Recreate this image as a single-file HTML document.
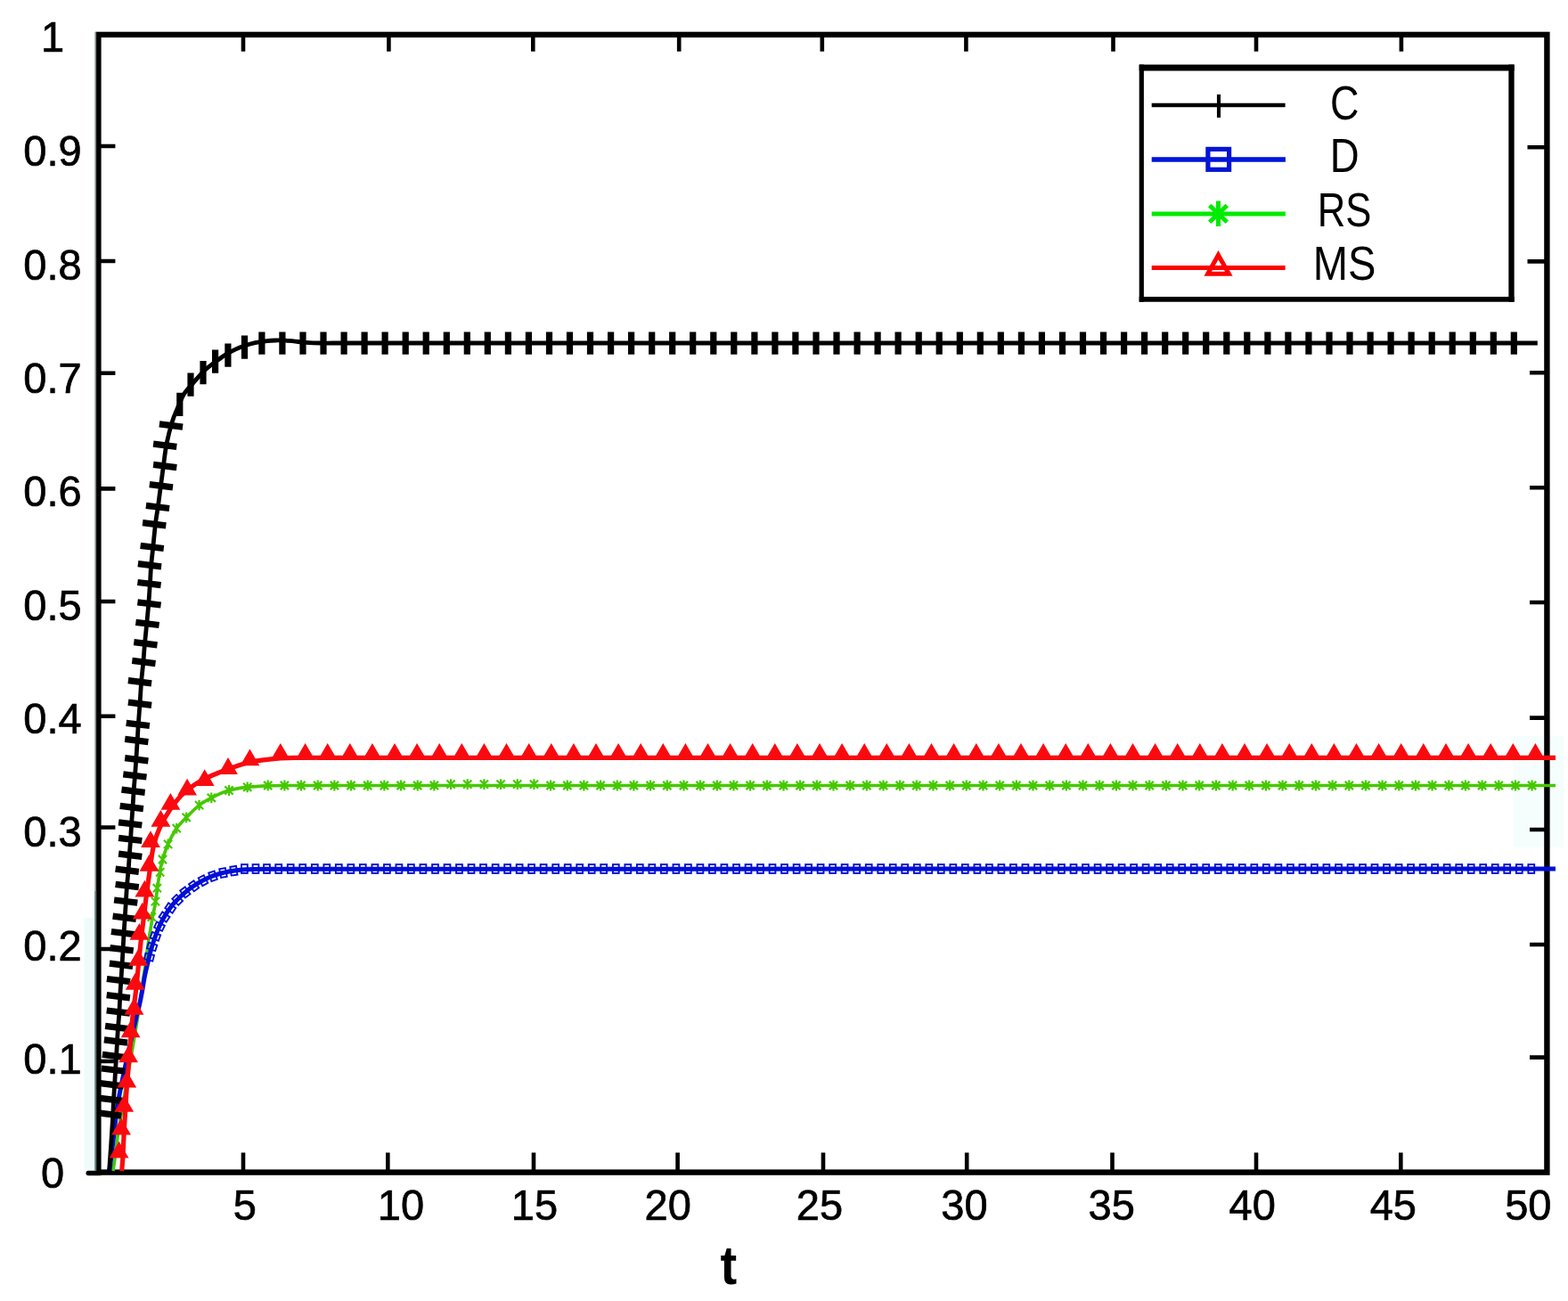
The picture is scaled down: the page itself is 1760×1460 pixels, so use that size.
<!DOCTYPE html>
<html lang="en"><head><meta charset="utf-8"><title>t</title>
<style>html,body{margin:0;padding:0;background:#fff}body{width:1760px;height:1460px;overflow:hidden}svg{display:block}</style>
</head><body>
<svg width="1760" height="1460" viewBox="0 0 1760 1460"><rect x="94.5" y="1030" width="12" height="285" fill="#effbfb"/>
<rect x="1699" y="826" width="56" height="125" fill="#f6fdfd"/>
<rect x="110.4" y="38.9" width="1626.0" height="1276.6999999999998" fill="none" stroke="#000" stroke-width="6.4"/>
<path d="M99.2,1316.5H112" stroke="#000" stroke-width="5.4" stroke-linecap="round"/>
<path d="M107.3,36V1314" stroke="#7d8483" stroke-width="1.7"/><path d="M107.3,1000V1314" stroke="#5f7d7a" stroke-width="1.7"/>
<path d="M273,38.9V57.8M436.4,38.9V57.8M598.3,38.9V57.8M762.2,38.9V57.8M922.8,38.9V57.8M1084.4,38.9V57.8M1249.5,38.9V57.8M1410,38.9V57.8M1572.9,38.9V57.8M273,1315.6V1293.6M435.3,1315.6V1293.6M599,1315.6V1293.6M760.6,1315.6V1293.6M924,1315.6V1293.6M1085.2,1315.6V1293.6M1248.5,1315.6V1293.6M1410,1315.6V1293.6M1572.3,1315.6V1293.6M110.4,164H129.4M110.4,293H129.4M110.4,418.7H129.4M110.4,548.4H129.4M110.4,675H129.4M110.4,803.7H129.4M110.4,928.5H129.4M110.4,1065H129.4M110.4,1191H129.4M1736.4,165.2H1714.5M1736.4,293.4H1714.5M1736.4,418.3H1717M1736.4,547.2H1717M1736.4,676H1717M1736.4,805.6H1717M1736.4,931H1717M1736.4,1060H1717M1736.4,1186.6H1717" stroke="#000" stroke-width="4.6" fill="none"/>
<path d="M126.9,1314.0 C127.2,1311.7 128.2,1306.2 129.0,1300.0 C129.8,1293.8 130.6,1285.4 131.8,1277.0 C133.0,1268.6 133.3,1266.9 136.2,1249.6 C139.1,1232.2 146.2,1191.2 149.3,1172.9 C152.4,1154.6 153.2,1150.5 154.8,1140.0 C156.5,1129.5 157.8,1120.0 159.2,1110.0 C160.6,1100.0 162.4,1088.0 163.5,1080.0 C164.6,1072.0 165.0,1067.9 165.8,1062.2 C166.6,1056.5 167.6,1051.3 168.5,1045.8 C169.4,1040.3 170.2,1034.8 171.2,1029.3 C172.2,1023.8 173.6,1018.4 174.5,1012.9 C175.4,1007.4 175.9,1001.9 176.7,996.4 C177.5,990.9 178.2,985.3 179.2,980.0 C180.2,974.7 180.9,969.9 182.5,964.5 C184.1,959.1 186.0,953.2 188.6,947.4 C191.2,941.6 194.8,934.6 198.2,929.6 C201.6,924.6 205.0,921.6 209.2,917.3 C213.4,913.0 218.9,907.3 223.6,903.6 C228.3,899.9 231.7,898.1 237.3,895.3 C242.9,892.5 250.3,889.0 257.0,887.0 C263.7,885.0 270.4,884.2 277.7,883.3 C285.0,882.4 292.3,882.1 301.0,881.8 C309.7,881.5 320.3,881.5 330.0,881.5 C339.7,881.5 354.2,881.5 359.0,881.5 L1746,881.5" fill="none" stroke="#46c800" stroke-width="3.7" stroke-linejoin="round"/>
<g fill="none" stroke="#46c800" stroke-width="2.2"><path d="M170.3,1023.2v11.8M165.7,1024.5l9.2,9.2M165.7,1033.7l9.2,-9.2M174.4,1005.7v11.8M169.8,1007.0l9.2,9.2M169.8,1016.2l9.2,-9.2M176.3,990.8v11.8M171.7,992.1l9.2,9.2M171.7,1001.3l9.2,-9.2M179.7,973.0v11.8M175.1,974.3l9.2,9.2M175.1,983.5l9.2,-9.2M182.5,958.6v11.8M177.9,959.9l9.2,9.2M177.9,969.1l9.2,-9.2M188.6,941.5v11.8M184.0,942.8l9.2,9.2M184.0,952.0l9.2,-9.2M198.2,923.7v11.8M193.6,925.0l9.2,9.2M193.6,934.2l9.2,-9.2M209.2,911.4v11.8M204.6,912.7l9.2,9.2M204.6,921.9l9.2,-9.2M223.6,897.7v11.8M219.0,899.0l9.2,9.2M219.0,908.2l9.2,-9.2M237.3,889.4v11.8M232.7,890.7l9.2,9.2M232.7,899.9l9.2,-9.2M257.0,881.1v11.8M252.4,882.4l9.2,9.2M252.4,891.6l9.2,-9.2M277.7,877.4v11.8M273.1,878.7l9.2,9.2M273.1,887.9l9.2,-9.2M300.7,875.6v11.8M296.1,876.9l9.2,9.2M296.1,886.1l9.2,-9.2M319.4,875.6v11.8M314.8,876.9l9.2,9.2M314.8,886.1l9.2,-9.2M338.0,875.6v11.8M333.4,876.9l9.2,9.2M333.4,886.1l9.2,-9.2M356.7,875.6v11.8M352.1,876.9l9.2,9.2M352.1,886.1l9.2,-9.2M375.4,875.6v11.8M370.8,876.9l9.2,9.2M370.8,886.1l9.2,-9.2M394.1,875.6v11.8M389.4,876.9l9.2,9.2M389.4,886.1l9.2,-9.2M412.7,875.6v11.8M408.1,876.9l9.2,9.2M408.1,886.1l9.2,-9.2M431.4,875.6v11.8M426.8,876.9l9.2,9.2M426.8,886.1l9.2,-9.2M450.1,875.6v11.8M445.5,876.9l9.2,9.2M445.5,886.1l9.2,-9.2M468.7,875.6v11.8M464.1,876.9l9.2,9.2M464.1,886.1l9.2,-9.2M487.4,875.6v11.8M482.8,876.9l9.2,9.2M482.8,886.1l9.2,-9.2M506.1,874.2v11.8M501.5,875.5l9.2,9.2M501.5,884.7l9.2,-9.2M524.7,874.2v11.8M520.1,875.5l9.2,9.2M520.1,884.7l9.2,-9.2M543.4,874.2v11.8M538.8,875.5l9.2,9.2M538.8,884.7l9.2,-9.2M562.1,874.2v11.8M557.5,875.5l9.2,9.2M557.5,884.7l9.2,-9.2M580.8,874.2v11.8M576.1,875.5l9.2,9.2M576.1,884.7l9.2,-9.2M599.4,874.2v11.8M594.8,875.5l9.2,9.2M594.8,884.7l9.2,-9.2M618.1,875.6v11.8M613.5,876.9l9.2,9.2M613.5,886.1l9.2,-9.2M636.8,875.6v11.8M632.2,876.9l9.2,9.2M632.2,886.1l9.2,-9.2M655.4,875.6v11.8M650.8,876.9l9.2,9.2M650.8,886.1l9.2,-9.2M674.1,875.6v11.8M669.5,876.9l9.2,9.2M669.5,886.1l9.2,-9.2M692.8,875.6v11.8M688.2,876.9l9.2,9.2M688.2,886.1l9.2,-9.2M711.4,875.6v11.8M706.8,876.9l9.2,9.2M706.8,886.1l9.2,-9.2M730.1,875.6v11.8M725.5,876.9l9.2,9.2M725.5,886.1l9.2,-9.2M748.8,875.6v11.8M744.2,876.9l9.2,9.2M744.2,886.1l9.2,-9.2M767.5,875.6v11.8M762.9,876.9l9.2,9.2M762.9,886.1l9.2,-9.2M786.1,875.6v11.8M781.5,876.9l9.2,9.2M781.5,886.1l9.2,-9.2M804.8,875.6v11.8M800.2,876.9l9.2,9.2M800.2,886.1l9.2,-9.2M823.5,875.6v11.8M818.9,876.9l9.2,9.2M818.9,886.1l9.2,-9.2M842.1,875.6v11.8M837.5,876.9l9.2,9.2M837.5,886.1l9.2,-9.2M860.8,875.6v11.8M856.2,876.9l9.2,9.2M856.2,886.1l9.2,-9.2M879.5,875.6v11.8M874.9,876.9l9.2,9.2M874.9,886.1l9.2,-9.2M898.1,875.6v11.8M893.5,876.9l9.2,9.2M893.5,886.1l9.2,-9.2M916.8,875.6v11.8M912.2,876.9l9.2,9.2M912.2,886.1l9.2,-9.2M935.5,875.6v11.8M930.9,876.9l9.2,9.2M930.9,886.1l9.2,-9.2M954.2,875.6v11.8M949.6,876.9l9.2,9.2M949.6,886.1l9.2,-9.2M972.8,875.6v11.8M968.2,876.9l9.2,9.2M968.2,886.1l9.2,-9.2M991.5,875.6v11.8M986.9,876.9l9.2,9.2M986.9,886.1l9.2,-9.2M1010.2,875.6v11.8M1005.6,876.9l9.2,9.2M1005.6,886.1l9.2,-9.2M1028.8,875.6v11.8M1024.2,876.9l9.2,9.2M1024.2,886.1l9.2,-9.2M1047.5,875.6v11.8M1042.9,876.9l9.2,9.2M1042.9,886.1l9.2,-9.2M1066.2,875.6v11.8M1061.6,876.9l9.2,9.2M1061.6,886.1l9.2,-9.2M1084.8,875.6v11.8M1080.2,876.9l9.2,9.2M1080.2,886.1l9.2,-9.2M1103.5,875.6v11.8M1098.9,876.9l9.2,9.2M1098.9,886.1l9.2,-9.2M1122.2,875.6v11.8M1117.6,876.9l9.2,9.2M1117.6,886.1l9.2,-9.2M1140.9,875.6v11.8M1136.3,876.9l9.2,9.2M1136.3,886.1l9.2,-9.2M1159.5,875.6v11.8M1154.9,876.9l9.2,9.2M1154.9,886.1l9.2,-9.2M1178.2,875.6v11.8M1173.6,876.9l9.2,9.2M1173.6,886.1l9.2,-9.2M1196.9,875.6v11.8M1192.3,876.9l9.2,9.2M1192.3,886.1l9.2,-9.2M1215.5,875.6v11.8M1210.9,876.9l9.2,9.2M1210.9,886.1l9.2,-9.2M1234.2,875.6v11.8M1229.6,876.9l9.2,9.2M1229.6,886.1l9.2,-9.2M1252.9,875.6v11.8M1248.3,876.9l9.2,9.2M1248.3,886.1l9.2,-9.2M1271.5,875.6v11.8M1266.9,876.9l9.2,9.2M1266.9,886.1l9.2,-9.2M1290.2,875.6v11.8M1285.6,876.9l9.2,9.2M1285.6,886.1l9.2,-9.2M1308.9,875.6v11.8M1304.3,876.9l9.2,9.2M1304.3,886.1l9.2,-9.2M1327.6,875.6v11.8M1323.0,876.9l9.2,9.2M1323.0,886.1l9.2,-9.2M1346.2,875.6v11.8M1341.6,876.9l9.2,9.2M1341.6,886.1l9.2,-9.2M1364.9,875.6v11.8M1360.3,876.9l9.2,9.2M1360.3,886.1l9.2,-9.2M1383.6,875.6v11.8M1379.0,876.9l9.2,9.2M1379.0,886.1l9.2,-9.2M1402.2,875.6v11.8M1397.6,876.9l9.2,9.2M1397.6,886.1l9.2,-9.2M1420.9,875.6v11.8M1416.3,876.9l9.2,9.2M1416.3,886.1l9.2,-9.2M1439.6,875.6v11.8M1435.0,876.9l9.2,9.2M1435.0,886.1l9.2,-9.2M1458.2,875.6v11.8M1453.6,876.9l9.2,9.2M1453.6,886.1l9.2,-9.2M1476.9,875.6v11.8M1472.3,876.9l9.2,9.2M1472.3,886.1l9.2,-9.2M1495.6,875.6v11.8M1491.0,876.9l9.2,9.2M1491.0,886.1l9.2,-9.2M1514.3,875.6v11.8M1509.7,876.9l9.2,9.2M1509.7,886.1l9.2,-9.2M1532.9,875.6v11.8M1528.3,876.9l9.2,9.2M1528.3,886.1l9.2,-9.2M1551.6,875.6v11.8M1547.0,876.9l9.2,9.2M1547.0,886.1l9.2,-9.2M1570.3,875.6v11.8M1565.7,876.9l9.2,9.2M1565.7,886.1l9.2,-9.2M1588.9,875.6v11.8M1584.3,876.9l9.2,9.2M1584.3,886.1l9.2,-9.2M1607.6,875.6v11.8M1603.0,876.9l9.2,9.2M1603.0,886.1l9.2,-9.2M1626.3,875.6v11.8M1621.7,876.9l9.2,9.2M1621.7,886.1l9.2,-9.2M1644.9,875.6v11.8M1640.3,876.9l9.2,9.2M1640.3,886.1l9.2,-9.2M1663.6,875.6v11.8M1659.0,876.9l9.2,9.2M1659.0,886.1l9.2,-9.2M1682.3,875.6v11.8M1677.7,876.9l9.2,9.2M1677.7,886.1l9.2,-9.2M1701.0,875.6v11.8M1696.4,876.9l9.2,9.2M1696.4,886.1l9.2,-9.2M1719.6,875.6v11.8M1715.0,876.9l9.2,9.2M1715.0,886.1l9.2,-9.2"/></g>
<path d="M123.0,1314.0 C123.7,1307.8 126.1,1287.7 127.4,1277.0 C128.7,1266.3 129.5,1258.2 130.6,1250.0 C131.7,1241.8 132.3,1237.7 134.2,1227.7 C136.1,1217.7 139.3,1202.6 142.0,1190.0 C144.7,1177.4 148.7,1160.3 150.6,1152.0 C152.5,1143.7 152.3,1144.0 153.3,1140.0 C154.3,1136.0 155.3,1132.7 156.4,1127.9 C157.5,1123.2 158.7,1117.0 159.7,1111.5 C160.7,1106.0 161.5,1100.2 162.5,1095.1 C163.5,1090.0 164.7,1085.4 165.8,1080.8 C166.9,1076.2 167.9,1071.7 169.0,1067.7 C170.1,1063.7 171.0,1060.5 172.3,1056.7 C173.6,1052.9 174.9,1048.9 176.7,1044.7 C178.4,1040.5 180.0,1036.4 182.8,1031.5 C185.6,1026.6 189.5,1020.5 193.6,1015.5 C197.7,1010.5 202.8,1005.7 207.3,1001.8 C211.9,997.9 216.4,994.7 220.9,991.9 C225.4,989.1 229.9,986.8 234.5,984.8 C239.1,982.8 243.6,981.2 248.2,980.0 C252.8,978.8 257.2,978.0 261.8,977.3 C266.4,976.6 269.1,976.1 275.5,975.8 C281.9,975.4 291.8,975.3 300.0,975.2 C308.2,975.1 320.4,975.2 324.5,975.2 L1746,975" fill="none" stroke="#000fd7" stroke-width="5" stroke-linejoin="round"/>
<g fill="none" stroke="#000fd7" stroke-width="1.9"><rect x="-3.4" y="-4.9" width="6.8" height="9.8" transform="translate(262.4,977.2) rotate(352)"/><rect x="-3.4" y="-4.9" width="6.8" height="9.8" transform="translate(250.5,979.5) rotate(349)"/><rect x="-3.4" y="-4.9" width="6.8" height="9.8" transform="translate(239.0,983.2) rotate(341)"/><rect x="-3.4" y="-4.9" width="6.8" height="9.8" transform="translate(228.0,988.2) rotate(332)"/><rect x="-3.4" y="-4.9" width="6.8" height="9.8" transform="translate(217.6,994.3) rotate(324)"/><rect x="-3.4" y="-4.9" width="6.8" height="9.8" transform="translate(207.8,1001.4) rotate(324)"/><rect x="-3.4" y="-4.9" width="6.8" height="9.8" transform="translate(199.2,1009.9) rotate(315)"/><rect x="-3.4" y="-4.9" width="6.8" height="9.8" transform="translate(191.3,1019.0) rotate(304)"/><rect x="-3.4" y="-4.9" width="6.8" height="9.8" transform="translate(184.5,1029.0) rotate(304)"/><rect x="-3.4" y="-4.9" width="6.8" height="9.8" transform="translate(179.0,1039.7) rotate(295)"/><rect x="-3.4" y="-4.9" width="6.8" height="9.8" transform="translate(174.4,1050.9) rotate(290)"/><rect x="-3.4" y="-4.9" width="6.8" height="9.8" transform="translate(170.6,1062.4) rotate(287)"/><rect x="-3.4" y="-4.9" width="6.8" height="9.8" transform="translate(167.4,1074.1) rotate(284)"/><rect x="271.0" y="970.1" width="6.8" height="9.8"/><rect x="283.6" y="970.1" width="6.8" height="9.8"/><rect x="296.1" y="970.1" width="6.8" height="9.8"/><rect x="309.3" y="970.1" width="6.8" height="9.8"/><rect x="322.8" y="970.1" width="6.8" height="9.8"/><rect x="336.3" y="970.1" width="6.8" height="9.8"/><rect x="349.9" y="970.1" width="6.8" height="9.8"/><rect x="363.4" y="970.1" width="6.8" height="9.8"/><rect x="376.9" y="970.1" width="6.8" height="9.8"/><rect x="390.4" y="970.1" width="6.8" height="9.8"/><rect x="403.9" y="970.1" width="6.8" height="9.8"/><rect x="417.5" y="970.1" width="6.8" height="9.8"/><rect x="431.0" y="970.1" width="6.8" height="9.8"/><rect x="444.5" y="970.1" width="6.8" height="9.8"/><rect x="458.0" y="970.1" width="6.8" height="9.8"/><rect x="471.5" y="970.1" width="6.8" height="9.8"/><rect x="485.1" y="970.1" width="6.8" height="9.8"/><rect x="498.6" y="970.1" width="6.8" height="9.8"/><rect x="512.1" y="970.1" width="6.8" height="9.8"/><rect x="525.6" y="970.1" width="6.8" height="9.8"/><rect x="539.1" y="970.1" width="6.8" height="9.8"/><rect x="552.7" y="970.1" width="6.8" height="9.8"/><rect x="566.2" y="970.1" width="6.8" height="9.8"/><rect x="579.7" y="970.1" width="6.8" height="9.8"/><rect x="593.2" y="970.1" width="6.8" height="9.8"/><rect x="606.7" y="970.1" width="6.8" height="9.8"/><rect x="620.3" y="970.1" width="6.8" height="9.8"/><rect x="633.8" y="970.1" width="6.8" height="9.8"/><rect x="647.3" y="970.1" width="6.8" height="9.8"/><rect x="660.8" y="970.1" width="6.8" height="9.8"/><rect x="674.3" y="970.1" width="6.8" height="9.8"/><rect x="687.9" y="970.1" width="6.8" height="9.8"/><rect x="701.4" y="970.1" width="6.8" height="9.8"/><rect x="714.9" y="970.1" width="6.8" height="9.8"/><rect x="728.4" y="970.1" width="6.8" height="9.8"/><rect x="741.9" y="970.1" width="6.8" height="9.8"/><rect x="755.5" y="970.1" width="6.8" height="9.8"/><rect x="769.0" y="970.1" width="6.8" height="9.8"/><rect x="782.5" y="970.1" width="6.8" height="9.8"/><rect x="796.0" y="970.1" width="6.8" height="9.8"/><rect x="809.5" y="970.1" width="6.8" height="9.8"/><rect x="823.1" y="970.1" width="6.8" height="9.8"/><rect x="836.6" y="970.1" width="6.8" height="9.8"/><rect x="850.1" y="970.1" width="6.8" height="9.8"/><rect x="863.6" y="970.1" width="6.8" height="9.8"/><rect x="877.1" y="970.1" width="6.8" height="9.8"/><rect x="890.7" y="970.1" width="6.8" height="9.8"/><rect x="904.2" y="970.1" width="6.8" height="9.8"/><rect x="917.7" y="970.1" width="6.8" height="9.8"/><rect x="931.2" y="970.1" width="6.8" height="9.8"/><rect x="944.7" y="970.1" width="6.8" height="9.8"/><rect x="958.3" y="970.1" width="6.8" height="9.8"/><rect x="971.8" y="970.1" width="6.8" height="9.8"/><rect x="985.3" y="970.1" width="6.8" height="9.8"/><rect x="998.8" y="970.1" width="6.8" height="9.8"/><rect x="1012.3" y="970.1" width="6.8" height="9.8"/><rect x="1025.9" y="970.1" width="6.8" height="9.8"/><rect x="1039.4" y="970.1" width="6.8" height="9.8"/><rect x="1052.9" y="970.1" width="6.8" height="9.8"/><rect x="1066.4" y="970.1" width="6.8" height="9.8"/><rect x="1079.9" y="970.1" width="6.8" height="9.8"/><rect x="1093.5" y="970.1" width="6.8" height="9.8"/><rect x="1107.0" y="970.1" width="6.8" height="9.8"/><rect x="1120.5" y="970.1" width="6.8" height="9.8"/><rect x="1134.0" y="970.1" width="6.8" height="9.8"/><rect x="1147.5" y="970.1" width="6.8" height="9.8"/><rect x="1161.1" y="970.1" width="6.8" height="9.8"/><rect x="1174.6" y="970.1" width="6.8" height="9.8"/><rect x="1188.1" y="970.1" width="6.8" height="9.8"/><rect x="1201.6" y="970.1" width="6.8" height="9.8"/><rect x="1215.1" y="970.1" width="6.8" height="9.8"/><rect x="1228.7" y="970.1" width="6.8" height="9.8"/><rect x="1242.2" y="970.1" width="6.8" height="9.8"/><rect x="1255.7" y="970.1" width="6.8" height="9.8"/><rect x="1269.2" y="970.1" width="6.8" height="9.8"/><rect x="1282.7" y="970.1" width="6.8" height="9.8"/><rect x="1296.3" y="970.1" width="6.8" height="9.8"/><rect x="1309.8" y="970.1" width="6.8" height="9.8"/><rect x="1323.3" y="970.1" width="6.8" height="9.8"/><rect x="1336.8" y="970.1" width="6.8" height="9.8"/><rect x="1350.3" y="970.1" width="6.8" height="9.8"/><rect x="1363.9" y="970.1" width="6.8" height="9.8"/><rect x="1377.4" y="970.1" width="6.8" height="9.8"/><rect x="1390.9" y="970.1" width="6.8" height="9.8"/><rect x="1404.4" y="970.1" width="6.8" height="9.8"/><rect x="1417.9" y="970.1" width="6.8" height="9.8"/><rect x="1431.5" y="970.1" width="6.8" height="9.8"/><rect x="1445.0" y="970.1" width="6.8" height="9.8"/><rect x="1458.5" y="970.1" width="6.8" height="9.8"/><rect x="1472.0" y="970.1" width="6.8" height="9.8"/><rect x="1485.5" y="970.1" width="6.8" height="9.8"/><rect x="1499.1" y="970.1" width="6.8" height="9.8"/><rect x="1512.6" y="970.1" width="6.8" height="9.8"/><rect x="1526.1" y="970.1" width="6.8" height="9.8"/><rect x="1539.6" y="970.1" width="6.8" height="9.8"/><rect x="1553.1" y="970.1" width="6.8" height="9.8"/><rect x="1566.7" y="970.1" width="6.8" height="9.8"/><rect x="1580.2" y="970.1" width="6.8" height="9.8"/><rect x="1593.7" y="970.1" width="6.8" height="9.8"/><rect x="1607.2" y="970.1" width="6.8" height="9.8"/><rect x="1620.7" y="970.1" width="6.8" height="9.8"/><rect x="1634.3" y="970.1" width="6.8" height="9.8"/><rect x="1647.8" y="970.1" width="6.8" height="9.8"/><rect x="1661.3" y="970.1" width="6.8" height="9.8"/><rect x="1674.8" y="970.1" width="6.8" height="9.8"/><rect x="1688.3" y="970.1" width="6.8" height="9.8"/><rect x="1701.9" y="970.1" width="6.8" height="9.8"/><rect x="1715.4" y="970.1" width="6.8" height="9.8"/></g>
<path d="M122.5,1314.0 C122.7,1311.7 123.1,1307.1 123.6,1300.0 C124.1,1292.9 125.0,1279.7 125.5,1271.5 C126.0,1263.3 126.5,1257.1 126.8,1250.7 C127.1,1244.3 127.3,1238.9 127.6,1233.2 C127.9,1227.5 128.4,1222.2 128.7,1216.7 C129.0,1211.2 129.3,1205.8 129.6,1200.3 C129.9,1194.8 130.4,1189.3 130.7,1183.8 C131.0,1178.3 131.3,1172.9 131.6,1167.4 C131.9,1161.9 132.3,1156.5 132.7,1151.0 C133.1,1145.5 133.7,1140.2 134.0,1134.5 C134.3,1128.8 134.5,1122.8 134.8,1117.0 C135.1,1111.2 135.5,1105.8 135.9,1100.0 C136.3,1094.2 136.6,1088.3 137.0,1082.5 C137.4,1076.7 137.8,1070.9 138.1,1064.9 C138.4,1059.0 138.7,1052.8 139.1,1046.8 C139.5,1040.8 139.9,1034.7 140.3,1028.8 C140.7,1022.9 141.0,1017.1 141.4,1011.2 C141.8,1005.4 142.0,999.6 142.5,993.7 C143.0,987.8 143.7,981.4 144.2,975.6 C144.7,969.9 144.9,964.9 145.3,959.2 C145.7,953.5 146.2,947.5 146.6,941.6 C147.0,935.7 147.3,929.6 147.7,923.6 C148.1,917.6 148.6,911.7 149.0,905.5 C149.4,899.3 149.8,892.1 150.2,886.3 C150.6,880.4 151.1,876.1 151.5,870.4 C151.9,864.7 152.4,858.9 152.8,852.3 C153.2,845.7 153.8,837.6 154.2,831.0 C154.6,824.4 154.8,819.8 155.3,812.9 C155.8,806.0 156.4,797.8 157.0,789.9 C157.6,782.0 158.0,773.0 158.6,765.2 C159.2,757.4 160.2,750.5 160.8,743.3 C161.5,736.1 161.8,729.1 162.5,721.9 C163.2,714.7 164.0,707.4 164.7,700.0 C165.4,692.6 166.2,685.3 166.8,677.5 C167.4,669.7 168.0,660.5 168.5,653.4 C169.0,646.3 169.0,641.4 169.6,634.8 C170.2,628.2 171.0,621.9 171.8,614.0 C172.6,606.1 173.6,595.2 174.5,587.7 C175.4,580.2 176.3,576.1 177.3,569.0 C178.3,561.9 179.4,552.8 180.5,544.9 C181.6,537.0 182.5,529.3 183.6,521.5 C184.7,513.7 185.4,506.0 187.0,498.0 C188.6,490.0 191.2,480.1 193.2,473.6 C195.2,467.1 196.6,464.2 198.9,458.9 C201.2,453.6 203.6,446.9 206.8,441.8 C210.0,436.7 214.4,432.6 218.2,428.2 C222.0,423.8 225.7,419.3 229.5,415.7 C233.3,412.1 237.1,409.5 240.9,406.6 C244.7,403.8 248.5,401.0 252.3,398.6 C256.1,396.2 259.8,394.2 263.6,392.4 C267.4,390.6 271.2,389.1 275.0,387.8 C278.8,386.5 282.6,385.4 286.4,384.6 C290.2,383.8 293.9,383.2 297.7,382.8 C301.5,382.4 305.3,382.1 309.1,382.0 C312.9,381.9 316.7,382.0 320.5,382.2 C324.3,382.4 328.0,382.8 331.8,383.2 C335.6,383.6 338.5,384.0 343.2,384.3 C347.9,384.6 354.4,384.9 360.0,385.0 C365.6,385.1 374.0,385.0 376.8,385.0 L1725.8,385" fill="none" stroke="#000" stroke-width="4.8" stroke-linejoin="round"/>
<path d="M112.0,1249.1L136.3,1252.1M112.0,1232.3L137.5,1235.4M112.5,1215.6L138.7,1218.8M113.8,1199.0L140.0,1202.2M114.9,1183.4L141.1,1186.6M116.9,1166.9L143.1,1170.1M118.1,1151.4L144.3,1154.6M119.7,1134.0L145.9,1137.2M119.7,1116.6L145.9,1119.8M119.9,1098.5L146.1,1101.7M122.9,1081.1L149.1,1084.3M123.5,1063.6L149.7,1066.8M124.9,1045.5L151.1,1048.7M126.6,1028.1L152.8,1031.3M128.1,1010.0L154.3,1013.2M129.6,992.4L155.8,995.6M129.6,975.2L155.8,978.4M133.1,958.1L159.3,961.3M133.1,940.3L159.3,943.5M133.1,922.8L159.3,926.0M134.7,904.4L160.9,907.6M136.5,886.2L162.7,889.4M138.3,868.8L164.5,872.0M140.2,850.6L166.4,853.8M140.2,829.4L166.4,832.6M141.7,811.3L167.9,814.5M143.9,788.1L170.1,791.3M143.9,763.7L170.1,766.9M148.3,741.4L174.5,744.6M150.3,720.6L176.5,723.8M152.4,698.3L178.6,701.5M154.4,675.8L180.6,679.0M154.4,653.5L180.6,656.7M154.9,632.7L181.1,635.9M157.6,612.3L183.8,615.5M160.1,586.6L186.3,589.8M163.9,567.3L190.1,570.5M167.8,543.6L194.0,546.8M172.1,521.4L198.3,524.6M172.1,498.2L198.3,501.4M178.9,475.9L205.1,479.1" stroke="#000" stroke-width="7.3" fill="none"/>
<path d="M201.8,440.7v26.2M214.0,418.5v26.2M228.0,405.1v26.2M241.6,392.6v26.2M255.9,385.5v26.2M274.5,376.6v26.2M293.9,372.5v25.2M316.9,372.5v25.2M340.0,372.5v25.2M363.0,372.5v25.2M386.1,372.5v25.2M409.1,372.5v25.2M432.1,372.5v25.2M455.2,372.5v25.2M478.2,372.5v25.2M501.3,372.5v25.2M524.3,372.5v25.2M547.3,372.5v25.2M570.4,372.5v25.2M593.4,372.5v25.2M616.5,372.5v25.2M639.5,372.5v25.2M662.5,372.5v25.2M685.6,372.5v25.2M708.6,372.5v25.2M731.7,372.5v25.2M754.7,372.5v25.2M777.7,372.5v25.2M800.8,372.5v25.2M823.8,372.5v25.2M846.9,372.5v25.2M869.9,372.5v25.2M892.9,372.5v25.2M916.0,372.5v25.2M939.0,372.5v25.2M962.1,372.5v25.2M985.1,372.5v25.2M1008.1,372.5v25.2M1031.2,372.5v25.2M1054.2,372.5v25.2M1077.3,372.5v25.2M1100.3,372.5v25.2M1123.3,372.5v25.2M1146.4,372.5v25.2M1169.4,372.5v25.2M1192.5,372.5v25.2M1215.5,372.5v25.2M1238.5,372.5v25.2M1261.6,372.5v25.2M1284.6,372.5v25.2M1307.7,372.5v25.2M1330.7,372.5v25.2M1353.7,372.5v25.2M1376.8,372.5v25.2M1399.8,372.5v25.2M1422.9,372.5v25.2M1445.9,372.5v25.2M1468.9,372.5v25.2M1492.0,372.5v25.2M1515.0,372.5v25.2M1538.1,372.5v25.2M1561.1,372.5v25.2M1584.1,372.5v25.2M1607.2,372.5v25.2M1630.2,372.5v25.2M1653.3,372.5v25.2M1676.3,372.5v25.2M1699.3,372.5v25.2" stroke="#000" stroke-width="7.2" fill="none"/>
<path d="M136.7,1314.0 C136.9,1311.7 137.4,1306.2 137.8,1300.0 C138.2,1293.8 138.5,1285.4 138.9,1277.0 C139.3,1268.6 139.9,1258.7 140.5,1249.6 C141.1,1240.5 141.5,1231.3 142.2,1222.2 C142.8,1213.1 143.7,1203.9 144.4,1194.8 C145.1,1185.7 145.8,1176.5 146.6,1167.4 C147.4,1158.3 148.0,1149.3 149.0,1140.0 C150.0,1130.7 151.5,1120.8 152.6,1111.5 C153.7,1102.2 154.4,1093.2 155.3,1084.1 C156.2,1075.0 157.1,1065.8 158.1,1056.7 C159.1,1047.6 160.3,1038.4 161.4,1029.3 C162.5,1020.2 163.6,1010.1 164.7,1001.9 C165.8,993.7 166.4,988.6 167.7,980.0 C168.9,971.4 170.3,958.5 172.2,950.1 C174.1,941.7 175.8,936.7 179.0,929.6 C182.2,922.5 186.8,914.3 191.4,907.7 C196.0,901.1 200.5,895.3 206.4,889.9 C212.3,884.5 219.0,879.9 227.0,875.5 C235.0,871.1 245.3,867.2 254.4,863.8 C263.5,860.4 271.7,857.2 281.8,855.0 C291.9,852.8 305.1,851.6 314.8,850.8 C324.5,850.0 331.6,850.4 340.0,850.3 C348.4,850.2 361.0,850.3 365.2,850.3 L1746,850.3" fill="none" stroke="#fa0a0f" stroke-width="5.2" stroke-linejoin="round"/>
<path d="M133.6,1280.7l10.9,18.8h-21.8zM136.1,1254.8l10.9,18.8h-21.8zM139.2,1229.0l10.9,18.8h-21.8zM142.3,1201.8l10.9,18.8h-21.8zM144.1,1173.4l10.9,18.8h-21.8zM146.6,1145.5l10.9,18.8h-21.8zM150.5,1120.0l10.9,18.8h-21.8zM151.7,1092.0l10.9,18.8h-21.8zM155.2,1065.0l10.9,18.8h-21.8zM156.4,1036.0l10.9,18.8h-21.8zM159.8,1012.8l10.9,18.8h-21.8zM162.4,987.8l10.9,18.8h-21.8zM167.4,959.0l10.9,18.8h-21.8zM169.0,932.3l10.9,18.8h-21.8zM180.4,909.0l10.9,18.8h-21.8zM191.4,889.9l10.9,18.8h-21.8zM210.1,873.8l10.9,18.8h-21.8zM229.7,863.2l10.9,18.8h-21.8zM256.0,850.1l10.9,18.8h-21.8zM280.4,840.5l10.9,18.8h-21.8zM314.8,833.9l10.9,18.8h-21.8zM342.6,833.9l10.9,18.8h-21.8zM367.7,833.9l10.9,18.8h-21.8zM392.8,833.9l10.9,18.8h-21.8zM417.9,833.9l10.9,18.8h-21.8zM443.0,833.9l10.9,18.8h-21.8zM468.1,833.9l10.9,18.8h-21.8zM493.2,833.9l10.9,18.8h-21.8zM518.3,833.9l10.9,18.8h-21.8zM543.4,833.9l10.9,18.8h-21.8zM568.5,833.9l10.9,18.8h-21.8zM593.7,833.9l10.9,18.8h-21.8zM618.8,833.9l10.9,18.8h-21.8zM643.9,833.9l10.9,18.8h-21.8zM669.0,833.9l10.9,18.8h-21.8zM694.1,833.9l10.9,18.8h-21.8zM719.2,833.9l10.9,18.8h-21.8zM744.3,833.9l10.9,18.8h-21.8zM769.4,833.9l10.9,18.8h-21.8zM794.5,833.9l10.9,18.8h-21.8zM819.6,833.9l10.9,18.8h-21.8zM844.7,833.9l10.9,18.8h-21.8zM869.8,833.9l10.9,18.8h-21.8zM894.9,833.9l10.9,18.8h-21.8zM920.0,833.9l10.9,18.8h-21.8zM945.1,833.9l10.9,18.8h-21.8zM970.2,833.9l10.9,18.8h-21.8zM995.3,833.9l10.9,18.8h-21.8zM1020.4,833.9l10.9,18.8h-21.8zM1045.5,833.9l10.9,18.8h-21.8zM1070.6,833.9l10.9,18.8h-21.8zM1095.8,833.9l10.9,18.8h-21.8zM1120.9,833.9l10.9,18.8h-21.8zM1146.0,833.9l10.9,18.8h-21.8zM1171.1,833.9l10.9,18.8h-21.8zM1196.2,833.9l10.9,18.8h-21.8zM1221.3,833.9l10.9,18.8h-21.8zM1246.4,833.9l10.9,18.8h-21.8zM1271.5,833.9l10.9,18.8h-21.8zM1296.6,833.9l10.9,18.8h-21.8zM1321.7,833.9l10.9,18.8h-21.8zM1346.8,833.9l10.9,18.8h-21.8zM1371.9,833.9l10.9,18.8h-21.8zM1397.0,833.9l10.9,18.8h-21.8zM1422.1,833.9l10.9,18.8h-21.8zM1447.2,833.9l10.9,18.8h-21.8zM1472.3,833.9l10.9,18.8h-21.8zM1497.4,833.9l10.9,18.8h-21.8zM1522.5,833.9l10.9,18.8h-21.8zM1547.6,833.9l10.9,18.8h-21.8zM1572.7,833.9l10.9,18.8h-21.8zM1597.8,833.9l10.9,18.8h-21.8zM1623.0,833.9l10.9,18.8h-21.8zM1648.1,833.9l10.9,18.8h-21.8zM1673.2,833.9l10.9,18.8h-21.8zM1698.3,833.9l10.9,18.8h-21.8zM1723.4,833.9l10.9,18.8h-21.8z" fill="#fa0a0f"/>
<g font-family="'Liberation Sans',Arial,Helvetica,sans-serif" font-size="48.2" fill="#000" stroke="#000" stroke-width="0.7" text-anchor="middle">
<text transform="translate(59,57.7) scale(0.975,1)">1</text>
<text transform="translate(59,185.5) scale(0.975,1)">0.9</text>
<text transform="translate(59,313.7) scale(0.975,1)">0.8</text>
<text transform="translate(59,440.6) scale(0.975,1)">0.7</text>
<text transform="translate(59,567.8) scale(0.975,1)">0.6</text>
<text transform="translate(59,695.5) scale(0.975,1)">0.5</text>
<text transform="translate(59,823.1) scale(0.975,1)">0.4</text>
<text transform="translate(59,950.1) scale(0.975,1)">0.3</text>
<text transform="translate(59,1078.1) scale(0.975,1)">0.2</text>
<text transform="translate(59,1205.4) scale(0.975,1)">0.1</text>
<text transform="translate(59,1333.1) scale(0.975,1)">0</text>
<text transform="translate(274.9,1369.3) scale(0.975,1)">5</text>
<text transform="translate(450,1369.3) scale(0.975,1)">10</text>
<text transform="translate(600,1369.3) scale(0.975,1)">15</text>
<text transform="translate(749.7,1369.3) scale(0.975,1)">20</text>
<text transform="translate(919.9,1369.3) scale(0.975,1)">25</text>
<text transform="translate(1082.5,1369.3) scale(0.975,1)">30</text>
<text transform="translate(1247.7,1369.3) scale(0.975,1)">35</text>
<text transform="translate(1405.7,1369.3) scale(0.975,1)">40</text>
<text transform="translate(1563.8,1369.3) scale(0.975,1)">45</text>
<text transform="translate(1715.3,1369.3) scale(0.975,1)">50</text>
</g>
<text transform="translate(817.8,1440.6) scale(0.92,1)" font-family="'Liberation Sans',Arial,Helvetica,sans-serif" font-size="61" font-weight="bold" text-anchor="middle" fill="#000">t</text>
<rect x="1281.3" y="76.1" width="415.2" height="259.8" fill="#fff"/>
<path d="M1278.7,76.1H1699.65" stroke="#000" stroke-width="7"/><path d="M1278.7,335.8H1699.65" stroke="#000" stroke-width="5.8"/><path d="M1281.3,72.6V338.7" stroke="#000" stroke-width="5.2"/><path d="M1696.5,72.6V338.7" stroke="#000" stroke-width="6.3"/>
<path d="M1292.7,118H1442.6" stroke="#000" stroke-width="4.4"/><path d="M1368,106V132" stroke="#000" stroke-width="4.1"/>
<path d="M1292.7,179H1442.9" stroke="#0014d7" stroke-width="5.5"/><rect x="1355.9" y="167.4" width="23.7" height="22.9" fill="none" stroke="#0014d7" stroke-width="5.2"/>
<path d="M1292.7,240.1H1442.9" stroke="#00eb00" stroke-width="5"/><path d="M1367.5,225.6V254.1M1357.7,230.5L1377.3,249.3M1357.7,249.3L1377.3,230.5" stroke="#00eb00" stroke-width="5" fill="none"/>
<path d="M1292.7,300.5H1442.6" stroke="#ff0000" stroke-width="4.8"/><path d="M1367.5,286.2L1379.3,307.2H1355.7z" stroke="#ff0000" stroke-width="5" fill="none" stroke-linejoin="miter"/>
<g font-family="'Liberation Sans',Arial,Helvetica,sans-serif" font-size="53.5" fill="#000" text-anchor="middle">
<text transform="translate(1509.1,133.9) scale(0.84,1)">C</text>
<text transform="translate(1509.1,192.9) scale(0.852,1)">D</text>
<text transform="translate(1509.1,254.0) scale(0.815,1)">RS</text>
<text transform="translate(1509.1,313.9) scale(0.88,1)">MS</text>
</g></svg>
</body></html>
